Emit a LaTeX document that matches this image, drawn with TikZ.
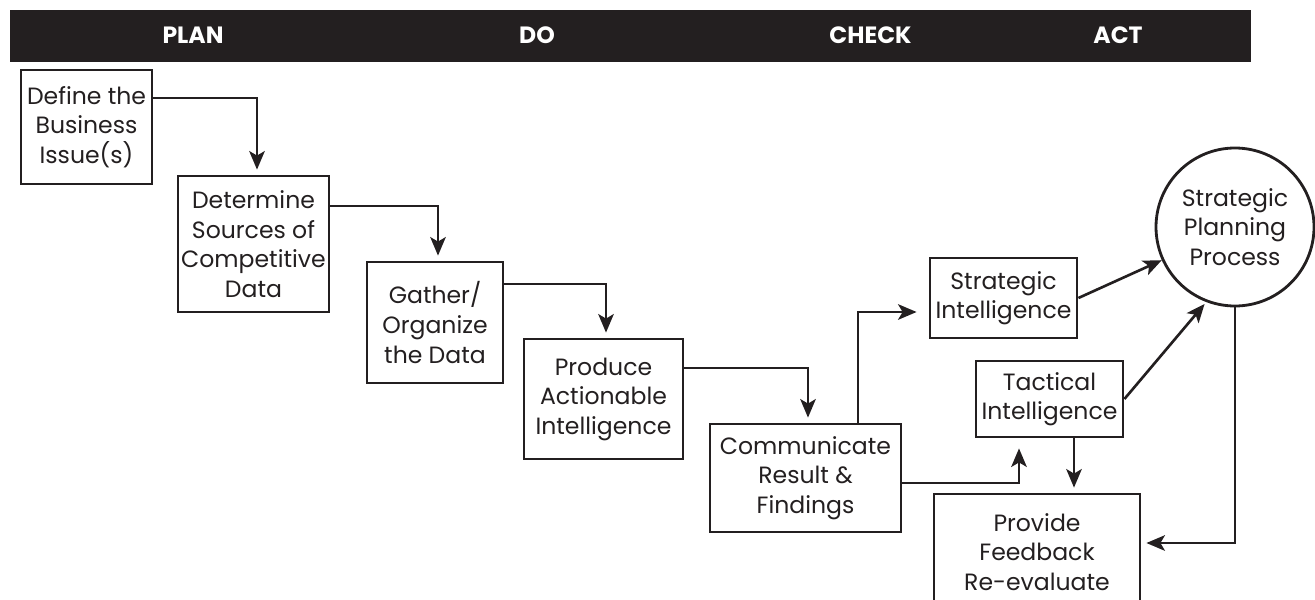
\documentclass[tikz,border=0pt]{standalone}
\usepackage{fontspec}
\setmainfont{Poppins}
\usetikzlibrary{arrows.meta}
\definecolor{ink}{HTML}{231F20}

\begin{document}
\begin{tikzpicture}[
    box/.style={draw=ink, line width=1.6pt, align=center, inner sep=0pt, text=ink,
        font=\fontsize{13.4}{16.8}\selectfont},
    head/.style={text=white, font=\bfseries\fontsize{13.4}{16}\selectfont},
    arr/.style={draw=ink, line width=1.5pt, -{Stealth[length=0.37cm,width=0.31cm,inset=0.09cm]}, shorten >=0.1cm},
]
        \clip (0,0) rectangle (26.3,-11.98);
        \fill[ink] (0.2,-0.2) rectangle (25.02,-1.24);
        \foreach \x/\t in {3.86/PLAN,10.74/DO,17.41/CHECK,22.36/ACT} \node[head] (h\t) at (\x,-0.71) {\t};
        \node[box, minimum width=2.62cm, minimum height=2.28cm] (define) at (1.73,-2.54) {Define the\\Business\\Issue(s)};
        \node[box, minimum width=3.02cm, minimum height=2.72cm] (determine) at (5.07,-4.88) {Determine\\Sources of\\Competitive\\Data};
        \node[box, minimum width=2.72cm, minimum height=2.42cm] (gather) at (8.70,-6.45) {Gather/\\Organize\\the Data};
        \node[box, minimum width=3.18cm, minimum height=2.40cm] (produce) at (12.07,-7.98) {Produce\\Actionable\\Intelligence};
        \node[box, minimum width=3.82cm, minimum height=2.16cm] (communicate) at (16.11,-9.56) {Communicate\\Result \&\\Findings};
        \node[box, minimum width=2.94cm, minimum height=1.60cm] (strategic) at (20.07,-5.96) {Strategic\\Intelligence};
        \node[box, minimum width=2.94cm, minimum height=1.52cm] (tactical) at (20.99,-7.98) {Tactical\\Intelligence};
        \node[box, minimum width=4.12cm, minimum height=2.32cm] (provide) at (20.74,-11.04) {Provide\\Feedback\\Re-evaluate};
        \node[box, circle, minimum size=3.16cm] (planning) at (24.70,-4.54) {Strategic\\Planning\\Process};
        \draw[arr] ([yshift=0.58cm]define.east) -| ([xshift=0.07cm]determine.north);
        \draw[arr] ([yshift=0.76cm]determine.east) -| ([xshift=0.06cm]gather.north);
        \draw[arr] ([yshift=0.77cm]gather.east) -| ([xshift=0.05cm]produce.north);
        \draw[arr] ([yshift=0.62cm]produce.east) -| ([xshift=0.05cm]communicate.north);
        \draw[arr, shorten >=0.24cm] ([xshift=1.05cm]communicate.north) |- ([yshift=-0.28cm]strategic.west);
        \draw[arr, shorten >=0.2cm] ([yshift=-0.1cm]communicate.east) -| ([xshift=-0.61cm]tactical.south);
        \draw[arr] ([xshift=0.49cm]tactical.south) -- ([xshift=0.49cm]tactical.south |- provide.north);
        \draw[arr, shorten >=0pt] (strategic.east) -- (planning);
        \draw[arr, shorten >=0.05cm] (tactical.east) -- (planning.249);
        \draw[arr] (planning.south) |- ([yshift=0.18cm]provide.east);
\end{tikzpicture}
\end{document}
